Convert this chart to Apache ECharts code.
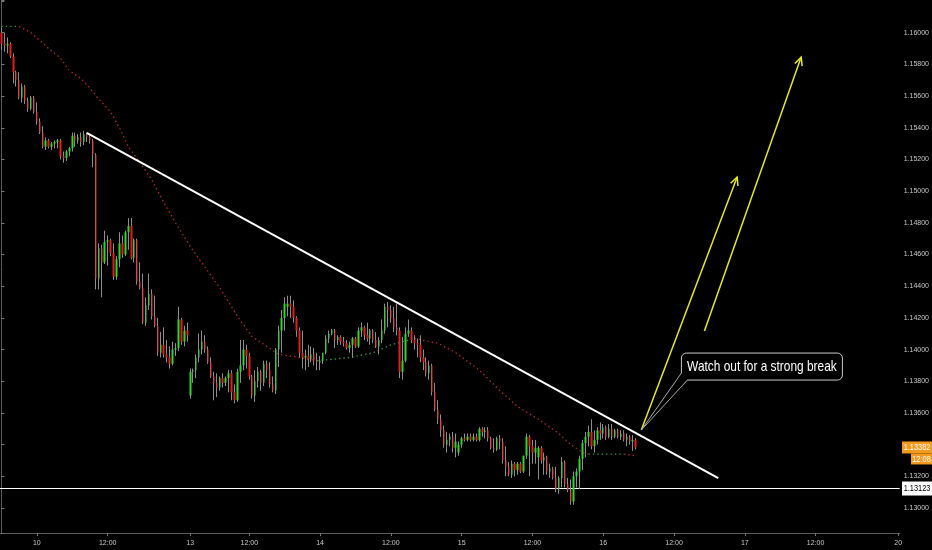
<!DOCTYPE html>
<html><head><meta charset="utf-8">
<script src="https://cdn.jsdelivr.net/npm/echarts@6/dist/echarts.min.js"></script>
<style>html,body{margin:0;padding:0;background:#000;}#c{width:932px;height:550px;}</style>
</head><body><div id="c"></div>
<script>
// ---- data (30-minute candles) ----
const opens = [
1.1600,1.1593,1.1592,1.1593,1.1585,1.1575,1.1570,1.1559,1.1566,1.1557,
1.1552,1.1559,1.1550,1.1544,1.1537,1.1528,1.1532,1.1528,1.1530,1.1531,
1.1532,1.1522,1.1521,1.1525,1.1527,1.1535,1.1532,1.1534,1.1531,1.1536,
1.1534,1.1532,1.1523,1.1445,1.1464,1.1455,1.1468,1.1469,1.1461,1.1446,
1.1457,1.1467,1.1460,1.1474,1.1478,1.1458,1.1469,1.1443,1.1439,1.1417,
1.1428,1.1435,1.1421,1.1415,1.1398,1.1403,1.1397,1.1395,1.1391,1.1400,
1.1401,1.1419,1.1405,1.1412,1.1371,1.1386,1.1387,1.1395,1.1400,1.1405,
1.1400,1.1392,1.1383,1.1379,1.1376,1.1382,1.1379,1.1382,1.1385,1.1373,
1.1368,1.1386,1.1390,1.1400,1.1396,1.1383,1.1371,1.1380,1.1386,1.1379,
1.1391,1.1387,1.1378,1.1374,1.1400,1.1412,1.1420,1.1427,1.1429,1.1427,
1.1420,1.1412,1.1398,1.1395,1.1396,1.1394,1.1397,1.1393,1.1392,1.1393,
1.1398,1.1407,1.1410,1.1412,1.1406,1.1408,1.1405,1.1404,1.1401,1.1403,
1.1407,1.1402,1.1412,1.1414,1.1409,1.1407,1.1412,1.1406,1.1402,1.1406,
1.1412,1.1427,1.1425,1.1420,1.1414,1.1412,1.1386,1.1393,1.1410,1.1412,
1.1406,1.1404,1.1403,1.1395,1.1392,1.1385,1.1390,1.1373,1.1362,1.1356,
1.1349,1.1340,1.1343,1.1345,1.1338,1.1335,1.1340,1.1344,1.1343,1.1345,
1.1343,1.1345,1.1343,1.1350,1.1348,1.1349,1.1344,1.1338,1.1337,1.1344,
1.1342,1.1330,1.1326,1.1321,1.1328,1.1324,1.1328,1.1323,1.1333,1.1345,
1.1339,1.1335,1.1332,1.1338,1.1330,1.1332,1.1323,1.1325,1.1319,1.1312,
1.1319,1.1329,1.1315,1.1311,1.1304,1.1320,1.1323,1.1331,1.1341,1.1345,
1.1348,1.1339,1.1343,1.1349,1.1347,1.1351,1.1345,1.1350,1.1345,1.1349,
1.1345,1.1347,1.1343,1.1345,1.1342,1.1343];
const closes = [
1.1593,1.1592,1.1593,1.1585,1.1575,1.1570,1.1559,1.1566,1.1557,1.1552,
1.1559,1.1550,1.1544,1.1537,1.1528,1.1532,1.1528,1.1530,1.1531,1.1532,
1.1522,1.1521,1.1525,1.1527,1.1535,1.1532,1.1534,1.1531,1.1536,1.1534,
1.1532,1.1523,1.1445,1.1464,1.1455,1.1468,1.1469,1.1461,1.1446,1.1457,
1.1467,1.1460,1.1474,1.1478,1.1458,1.1469,1.1443,1.1439,1.1417,1.1428,
1.1435,1.1421,1.1415,1.1398,1.1403,1.1397,1.1395,1.1391,1.1400,1.1401,
1.1419,1.1405,1.1412,1.1409,1.1386,1.1387,1.1395,1.1400,1.1405,1.1400,
1.1392,1.1383,1.1379,1.1376,1.1382,1.1379,1.1382,1.1385,1.1373,1.1368,
1.1386,1.1390,1.1400,1.1396,1.1383,1.1371,1.1380,1.1386,1.1379,1.1391,
1.1387,1.1378,1.1374,1.1400,1.1412,1.1420,1.1429,1.1429,1.1427,1.1420,
1.1412,1.1398,1.1395,1.1396,1.1394,1.1397,1.1393,1.1392,1.1393,1.1398,
1.1407,1.1410,1.1412,1.1406,1.1408,1.1405,1.1404,1.1401,1.1403,1.1407,
1.1402,1.1412,1.1414,1.1409,1.1407,1.1412,1.1406,1.1402,1.1406,1.1412,
1.1427,1.1425,1.1420,1.1414,1.1412,1.1386,1.1393,1.1410,1.1412,1.1406,
1.1404,1.1403,1.1395,1.1392,1.1385,1.1390,1.1373,1.1362,1.1356,1.1349,
1.1340,1.1343,1.1345,1.1338,1.1342,1.1340,1.1344,1.1343,1.1345,1.1343,
1.1345,1.1343,1.1350,1.1348,1.1349,1.1344,1.1338,1.1337,1.1344,1.1342,
1.1330,1.1326,1.1321,1.1328,1.1324,1.1328,1.1323,1.1333,1.1345,1.1339,
1.1335,1.1338,1.1338,1.1330,1.1332,1.1323,1.1325,1.1319,1.1312,1.1319,
1.1329,1.1315,1.1311,1.1304,1.1320,1.1323,1.1331,1.1341,1.1345,1.1348,
1.1339,1.1343,1.1349,1.1347,1.1351,1.1345,1.1350,1.1345,1.1349,1.1345,
1.1347,1.1343,1.1345,1.1342,1.1343,1.13382];
const highs = [
1.1603,1.1600,1.1597,1.1594,1.1587,1.1576,1.1575,1.1568,1.1567,1.1559,
1.1560,1.1560,1.1556,1.1546,1.1541,1.1534,1.1533,1.1531,1.1532,1.1533,
1.1533,1.1525,1.1526,1.1528,1.1537,1.1537,1.1536,1.1537,1.1538,1.1537,
1.1536,1.1533,1.1524,1.1467,1.1466,1.1475,1.1472,1.1470,1.1467,1.1459,
1.1474,1.1472,1.1475,1.1483,1.1483,1.1470,1.1470,1.1455,1.1448,1.1433,
1.1448,1.1438,1.1434,1.1420,1.1411,1.1414,1.1406,1.1402,1.1405,1.1404,
1.1427,1.1420,1.1415,1.1417,1.1388,1.1388,1.1397,1.1410,1.1412,1.1409,
1.1402,1.1395,1.1386,1.1385,1.1383,1.1385,1.1383,1.1387,1.1387,1.1378,
1.1388,1.1406,1.1406,1.1403,1.1398,1.1384,1.1387,1.1389,1.1387,1.1393,
1.1393,1.1392,1.1383,1.1401,1.1415,1.1425,1.1433,1.1434,1.1434,1.1431,
1.1421,1.1414,1.1412,1.1400,1.1403,1.1402,1.1401,1.1398,1.1396,1.1398,
1.1409,1.1412,1.1413,1.1413,1.1409,1.1409,1.1408,1.1406,1.1405,1.1408,
1.1408,1.1414,1.1417,1.1415,1.1417,1.1413,1.1413,1.1411,1.1408,1.1419,
1.1429,1.1430,1.1428,1.1427,1.1429,1.1414,1.1408,1.1414,1.1419,1.1414,
1.1409,1.1407,1.1409,1.1400,1.1395,1.1393,1.1391,1.1379,1.1368,1.1359,
1.1352,1.1348,1.1347,1.1348,1.1347,1.1342,1.1345,1.1347,1.1347,1.1347,
1.1347,1.1347,1.1351,1.1351,1.1351,1.1351,1.1345,1.1344,1.1345,1.1346,
1.1344,1.1339,1.1329,1.1330,1.1329,1.1329,1.1329,1.1333,1.1347,1.1346,
1.1343,1.1343,1.1339,1.1339,1.1335,1.1333,1.1328,1.1326,1.1326,1.1320,
1.1332,1.1330,1.1319,1.1318,1.1323,1.1325,1.1333,1.1343,1.1348,1.1352,
1.1356,1.1349,1.1351,1.1354,1.1353,1.1352,1.1353,1.1353,1.1350,1.1350,
1.1349,1.1349,1.1347,1.1346,1.1346,1.1344];
const lows = [
1.1589,1.1588,1.1587,1.1584,1.1568,1.1566,1.1558,1.1556,1.1555,1.1550,
1.1551,1.1549,1.1542,1.1536,1.1527,1.1526,1.1527,1.1526,1.1527,1.1527,
1.1520,1.1518,1.1519,1.1522,1.1525,1.1528,1.1530,1.1528,1.1529,1.1531,
1.1530,1.1515,1.1438,1.1438,1.1433,1.1454,1.1453,1.1459,1.1444,1.1444,
1.1452,1.1458,1.1459,1.1463,1.1457,1.1455,1.1441,1.1438,1.1416,1.1415,
1.1425,1.1419,1.1414,1.1396,1.1395,1.1395,1.1392,1.1388,1.1390,1.1396,
1.1399,1.1403,1.1402,1.1405,1.1369,1.1379,1.1382,1.1392,1.1397,1.1398,
1.1391,1.1382,1.1368,1.1370,1.1374,1.1376,1.1377,1.1373,1.1368,1.1366,
1.1367,1.1379,1.1387,1.1388,1.1381,1.1369,1.1367,1.1376,1.1374,1.1377,
1.1382,1.1376,1.1373,1.1372,1.1389,1.1398,1.1412,1.1421,1.1420,1.1417,
1.1408,1.1395,1.1388,1.1387,1.1389,1.1392,1.1390,1.1387,1.1387,1.1391,
1.1397,1.1404,1.1409,1.1401,1.1403,1.1403,1.1402,1.1400,1.1398,1.1395,
1.1401,1.1401,1.1408,1.1406,1.1405,1.1403,1.1404,1.1401,1.1397,1.1404,
1.1410,1.1414,1.1417,1.1411,1.1409,1.1382,1.1381,1.1392,1.1408,1.1404,
1.1400,1.1395,1.1392,1.1387,1.1383,1.1381,1.1371,1.1361,1.1353,1.1345,
1.1338,1.1335,1.1339,1.1335,1.1332,1.1333,1.1338,1.1342,1.1342,1.1342,
1.1342,1.1342,1.1342,1.1345,1.1344,1.1342,1.1337,1.1335,1.1336,1.1337,
1.1328,1.1320,1.1320,1.1319,1.1320,1.1321,1.1322,1.1322,1.1331,1.1320,
1.1328,1.1328,1.1318,1.1328,1.1321,1.1321,1.1319,1.1318,1.1310,1.1309,
1.1313,1.1313,1.1310,1.1302,1.1302,1.1313,1.1312,1.1324,1.1332,1.1339,
1.1337,1.1335,1.1340,1.1343,1.1344,1.1343,1.1344,1.1343,1.1344,1.1344,
1.1343,1.1342,1.1339,1.1340,1.1336,1.1337];

// time axis: 30-minute slots (incl. future space), labels at slot indices
const slotCount = 305;
const tickSlots = [12, 36, 64, 84, 108, 132, 156, 180, 204, 228, 252, 276, 304];
const tickTexts = ['10', '12:00', '13', '12:00', '14', '12:00', '15', '12:00', '16', '12:00', '17', '12:00', '20'];

// price axis range
const priceMin = 1.128422;
const priceMax = 1.162064;

// moving average, [slot, price], split by direction
const maGreenSegments = [
  [[0, 1.1604], [6, 1.1604]],
  [[107, 1.1393], [113, 1.1394], [118, 1.1395], [126, 1.1398], [132, 1.1403], [140, 1.1407]],
  [[199, 1.1334], [211, 1.1334]]
];
const maRedSegments = [
  [[6, 1.1604], [10, 1.1600], [13, 1.1595], [16, 1.1590], [20, 1.1584], [23, 1.1576], [27, 1.1571], [30, 1.1565],
   [33, 1.1558], [37, 1.1550], [40, 1.1540], [43, 1.1528], [47, 1.1518], [51, 1.1507], [55, 1.1493], [59, 1.1480],
   [64, 1.1465], [69, 1.1452], [74, 1.1439], [80, 1.1421], [85, 1.1408], [90, 1.1402], [94, 1.1397], [101, 1.1395], [107, 1.1393]],
  [[140, 1.1407], [148, 1.1404], [154, 1.1398], [162, 1.1387], [169, 1.1374], [175, 1.1364], [182, 1.1356],
   [189, 1.1347], [193, 1.1340], [197, 1.1335], [199, 1.1334]],
  [[211, 1.1334], [215, 1.1333]]
];

// drawings (in slot / price units)
const trendLine = [[28.9, 1.15367], [243, 1.13189]];
const supportLevel = 1.13123;
const lastPrice = 1.13382;
const countdown = '12:08';
const arrowFromBreak = [[216.9, 1.13492], [249.4, 1.15089]];
const arrowTarget = [[238.3, 1.14117], [271.1, 1.15846]];
const calloutText = 'Watch out for a strong break';
const calloutTip = [216.9, 1.13492];
const calloutCorner = [230.5, 1.13978];

// ---- chart ----
const UP = '#2ed52e', DOWN = '#e51c1c', WICK = '#8e8e8e', YEL = '#e8e81c';
const FONT = '"Liberation Sans", Arial, sans-serif';
const SX = 0.82; // horizontally condensed text like the reference
const chart = echarts.init(document.getElementById('c'));
const categories = Array.from({length: slotCount}, () => '');
tickSlots.forEach((s, i) => { categories[s] = tickTexts[i]; });
const showTick = (idx, val) => val !== '';
const wickData = opens.map((o, i) => [o, closes[i], lows[i], highs[i]]);
const bodyData = opens.map((o, i) => [o, closes[i], Math.min(o, closes[i]), Math.max(o, closes[i])]);

const maSeries = [];
maRedSegments.forEach(seg => maSeries.push({type: 'line', xAxisIndex: 1, data: seg, showSymbol: false, silent: true,
  lineStyle: {color: '#b8232a', width: 1.4, type: [1.4, 3]}, z: 1}));
maGreenSegments.forEach(seg => maSeries.push({type: 'line', xAxisIndex: 1, data: seg, showSymbol: false, silent: true,
  lineStyle: {color: '#2f9a2f', width: 1.4, type: [1.4, 3]}, z: 1}));

chart.setOption({
  backgroundColor: '#000',
  animation: false,
  grid: {left: 0, right: 30, top: 0, bottom: 17},
  xAxis: [
    {type: 'category', data: categories, boundaryGap: true,
     axisLine: {show: true, lineStyle: {color: '#5a5a5a'}},
     axisTick: {show: true, interval: showTick, alignWithLabel: true, length: 3, lineStyle: {color: '#777'}},
     axisLabel: {interval: showTick, color: '#c8c8c8', fontSize: 7, margin: 7, fontFamily: FONT},
     splitLine: {show: false}},
    {type: 'value', min: -0.5, max: slotCount - 0.5, show: false}
  ],
  yAxis: {type: 'value', position: 'right', min: priceMin, max: priceMax, splitNumber: 17,
    axisLine: {show: true, lineStyle: {color: '#5a5a5a'}},
    axisTick: {show: true, length: 3, lineStyle: {color: '#777'}},
    axisLabel: {color: '#c8c8c8', fontSize: 7, margin: 4, fontFamily: FONT,
      formatter: v => (v < 1.1299 || v > 1.1601) ? '' : v.toFixed(5)},
    splitLine: {show: false}},
  series: [
    ...maSeries,
    {type: 'line', xAxisIndex: 1, data: [[-0.5, supportLevel], [slotCount - 0.5, supportLevel]],
     showSymbol: false, silent: true, z: 2, lineStyle: {color: '#ffffff', width: 1}},
    {type: 'candlestick', name: 'wicks', data: wickData, barWidth: 1, silent: true, z: 3,
     itemStyle: {color: WICK, color0: WICK, borderColor: WICK, borderColor0: WICK, borderWidth: 1}},
    {type: 'candlestick', name: 'bodies', data: bodyData, barWidth: 2, silent: true, z: 4,
     itemStyle: {color: UP, color0: DOWN, borderColor: UP, borderColor0: DOWN, borderWidth: 0}},
    {type: 'line', xAxisIndex: 1, data: trendLine, showSymbol: false, silent: true, z: 5,
     lineStyle: {color: '#ffffff', width: 2}}
  ]
});

function px(pt) { return chart.convertToPixel({xAxisIndex: 1, yAxisIndex: 0}, pt); }
function arrow(a, b) {
  const p1 = px(a), p2 = px(b);
  const ang = Math.atan2(p2[1] - p1[1], p2[0] - p1[0]);
  const L = 9, sp = 0.45;
  const h1 = [p2[0] - L * Math.cos(ang - sp), p2[1] - L * Math.sin(ang - sp)];
  const h2 = [p2[0] - L * Math.cos(ang + sp), p2[1] - L * Math.sin(ang + sp)];
  return [
    {type: 'line', shape: {x1: p1[0], y1: p1[1], x2: p2[0], y2: p2[1]}, style: {stroke: YEL, lineWidth: 1.5}, z: 20},
    {type: 'polyline', shape: {points: [h1, p2, h2]}, style: {stroke: YEL, lineWidth: 1.5, fill: null}, z: 20}
  ];
}
function tag(x, y, w, h, bg, fg, text) {
  return [
    {type: 'rect', shape: {x: x, y: y, width: w, height: h}, style: {fill: bg}, z: 40},
    {type: 'text', x: x + w / 2, y: y + h / 2 + 0.5, scaleX: SX, z: 41,
     style: {text: text, fill: fg, font: '9px ' + FONT, align: 'center', verticalAlign: 'middle'}}
  ];
}
const tip = px(calloutTip), box = px(calloutCorner);
const bw = 161, bh = 27;
const tA = [box[0], box[1] + 20], tB = [box[0] + 6, box[1] + bh];
const yLast = chart.convertToPixel({yAxisIndex: 0}, lastPrice);
const ySup = chart.convertToPixel({yAxisIndex: 0}, supportLevel);
const graphics = [
  ...arrow(arrowFromBreak[0], arrowFromBreak[1]),
  ...arrow(arrowTarget[0], arrowTarget[1]),
  {type: 'rect', shape: {x: box[0], y: box[1], width: bw, height: bh, r: 5}, style: {fill: '#000', stroke: '#c8c8c8', lineWidth: 1}, z: 30},
  {type: 'polygon', shape: {points: [tA, tip, tB, [box[0] + 3, box[1] + 21]]}, style: {fill: '#000', stroke: null}, z: 31},
  {type: 'polyline', shape: {points: [tA, tip, tB]}, style: {stroke: '#a8a8a8', lineWidth: 1, fill: null}, z: 32},
  {type: 'text', x: box[0] + bw / 2, y: box[1] + bh / 2 + 0.5, scaleX: SX, z: 33,
   style: {text: calloutText, fill: '#ffffff', font: '14.5px ' + FONT, align: 'center', verticalAlign: 'middle'}},
  ...tag(902, yLast - 6, 30, 12, '#f39a1e', '#ffffff', lastPrice.toFixed(5)),
  ...tag(911, yLast + 6, 21, 11, '#f39a1e', '#ffffff', countdown),
  ...tag(902, ySup - 7, 30, 14, '#ffffff', '#000000', supportLevel.toFixed(5))
];
chart.setOption({graphic: graphics});
</script>
</body></html>
